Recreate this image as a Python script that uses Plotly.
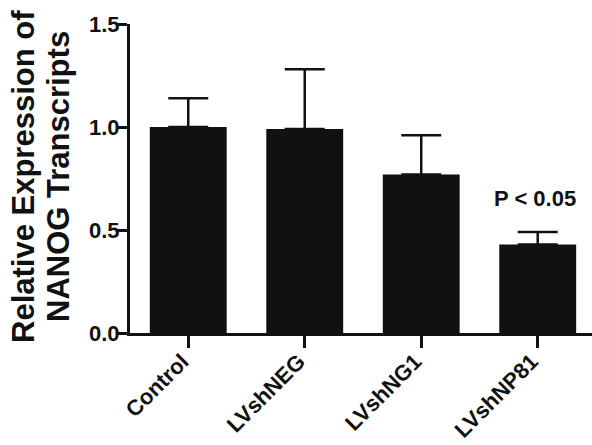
import plotly.graph_objects as go

categories = ["Control", "LVshNEG", "LVshNG1", "LVshNP81"]
values = [1.00, 0.99, 0.77, 0.43]
errors_up = [0.14, 0.29, 0.19, 0.06]
y_ticks = [0.0, 0.5, 1.0, 1.5]
y_tick_labels = ["0.0", "0.5", "1.0", "1.5"]
title_lines = ["Relative Expression of", "NANOG Transcripts"]
sig_label = "P < 0.05"

FONT = "Liberation Sans, Arial, sans-serif"
INK = "#111111"

fig = go.Figure()
fig.add_trace(go.Bar(
    x=categories,
    y=values,
    width=0.66,
    marker=dict(color=INK, line=dict(width=0)),
    error_y=dict(
        type="data",
        array=errors_up,
        arrayminus=[0] * len(errors_up),
        symmetric=False,
        color=INK,
        thickness=2.5,
        width=20,
    ),
    showlegend=False,
))

fig.update_layout(
    width=592,
    height=445,
    margin=dict(l=130, r=0, t=24, b=112, autoexpand=False),
    paper_bgcolor="white",
    plot_bgcolor="white",
    font=dict(family=FONT, color=INK),
    bargap=0.34,
    xaxis=dict(
        range=[-0.5, 3.466],
        automargin=False,
        showline=True,
        linewidth=3,
        linecolor=INK,
        ticks="outside",
        ticklen=12,
        tickwidth=3,
        tickcolor=INK,
        tickangle=-45,
        ticklabelstandoff=-8,
        ticklabelshift=-6,
        tickfont=dict(family=FONT, size=22, color=INK, weight="bold"),
        showgrid=False,
        zeroline=False,
    ),
    yaxis=dict(
        range=[0, 1.5],
        automargin=False,
        tickvals=y_ticks,
        ticktext=y_tick_labels,
        showline=True,
        linewidth=3,
        linecolor=INK,
        ticks="outside",
        ticklen=10,
        tickwidth=3,
        tickcolor=INK,
        ticklabelstandoff=-7,
        tickfont=dict(family=FONT, size=22, color=INK, weight="bold"),
        showgrid=False,
        zeroline=False,
    ),
)

plot_w = 592 - 130
plot_h = 445 - 24 - 112
title_y = (445 - 112 - 177) / plot_h
for line, px in zip(title_lines, [23, 58]):
    fig.add_annotation(
        text=line,
        xref="paper", yref="paper",
        x=(px - 130) / plot_w, y=title_y,
        xanchor="center", yanchor="middle",
        textangle=-90,
        showarrow=False,
        font=dict(family=FONT, size=31, color=INK, weight="bold"),
    )

fig.add_annotation(
    text=sig_label,
    x=categories[3], y=0.655,
    xref="x", yref="y",
    xshift=-3,
    showarrow=False,
    font=dict(family=FONT, size=22, color=INK, weight="bold"),
)

fig.write_html("out.html")
